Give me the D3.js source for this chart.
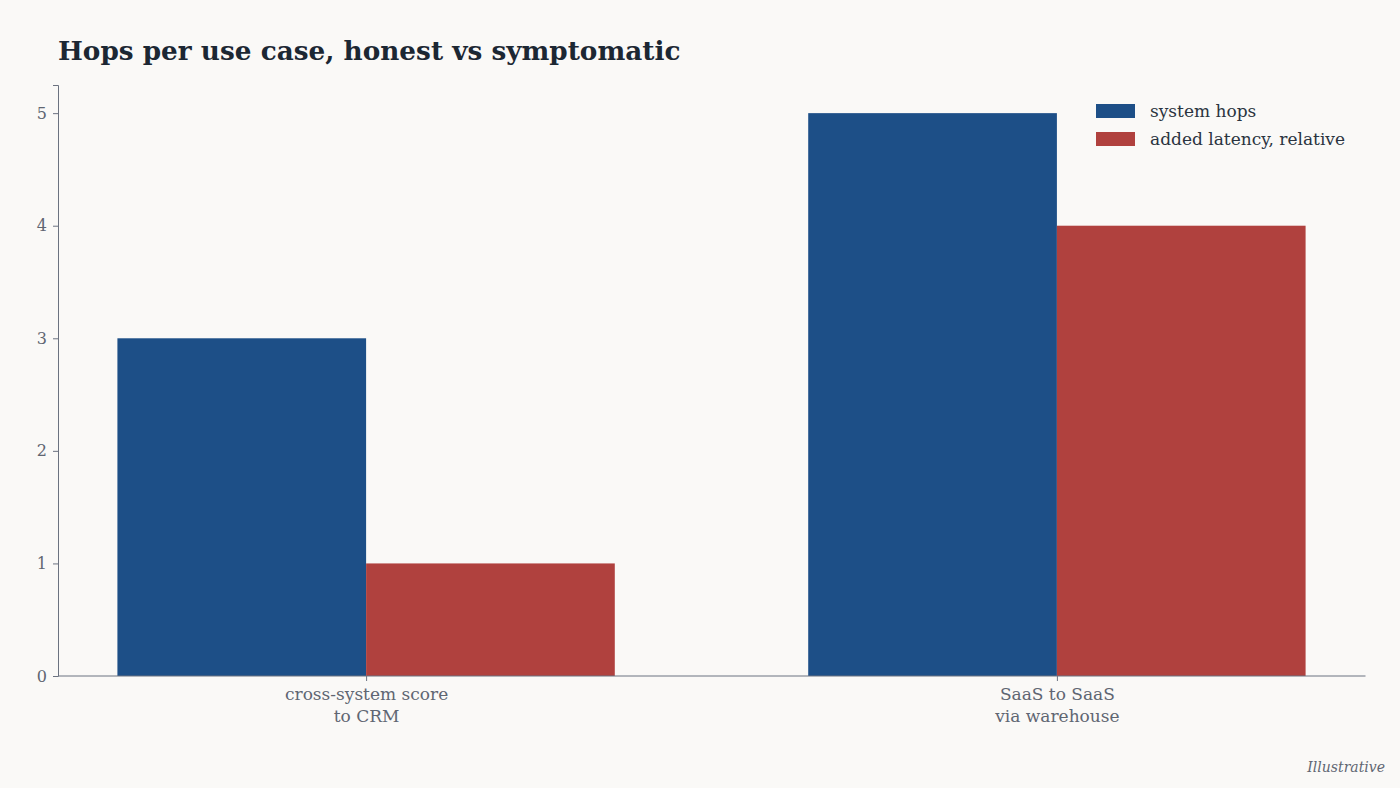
<!DOCTYPE html>
<html>
<head>
<meta charset="utf-8">
<script src="https://cdn.jsdelivr.net/npm/d3@7"></script>
<style>
  body { margin: 0; background: #faf9f7; }
  svg text { font-family: Georgia, "DejaVu Serif", serif; }
</style>
</head>
<body>
<svg id="chart" width="1400" height="788"></svg>
<script>
// data
var categories = ["cross-system score\nto CRM", "SaaS to SaaS\nvia warehouse"];
var seriesNames = ["system hops", "added latency, relative"];
var systemHops = [3, 5];
var addedLatency = [1, 4];
var yTicks = [0, 1, 2, 3, 4, 5];

var colors = ["#1d4f87", "#b0413e"];
var barW = 0.36;

var svg = d3.select("#chart");
var margin = { top: 85, right: 35, bottom: 112, left: 58 };
var width = 1400 - margin.left - margin.right;
var height = 788 - margin.top - margin.bottom;

var g = svg.append("g")
    .attr("transform", "translate(" + margin.left + "," + margin.top + ")");

var pad = (2 * barW + 1) * 0.05;
var x = d3.scaleLinear()
    .domain([-barW - pad, 1 + barW + pad])
    .range([0, width]);
var y = d3.scaleLinear().domain([0, 5.25]).range([height, 0]);

var series = [systemHops, addedLatency];
series.forEach(function(vals, s) {
    g.selectAll(".bar" + s)
        .data(vals)
        .enter().append("rect")
        .attr("x", function(d, i) { return x(i - barW + s * barW); })
        .attr("y", function(d) { return y(d); })
        .attr("width", x(barW) - x(0))
        .attr("height", function(d) { return y(0) - y(d); })
        .attr("fill", colors[s]);
});

// y axis
var yAxis = g.append("g")
    .call(d3.axisLeft(y).tickValues(yTicks).tickSize(5).tickPadding(6).tickFormat(d3.format("d")));
yAxis.select(".domain").attr("stroke", "#6b7280");
yAxis.selectAll(".tick line").attr("stroke", "#6b7280");
yAxis.selectAll(".tick text")
    .attr("fill", "#5f6672")
    .style("font-size", "16px")
    .style("font-variant-numeric", "oldstyle-nums");

// x axis
var xAxis = g.append("g")
    .attr("transform", "translate(0," + height + ")")
    .call(d3.axisBottom(x).tickValues([0, 1]).tickSize(5).tickFormat(""));
xAxis.select(".domain").attr("stroke", "#6b7280")
    .attr("d", "M0.5,0H" + (width + 0.5));
xAxis.selectAll(".tick line").attr("stroke", "#6b7280");
xAxis.selectAll(".tick").each(function(d, i) {
    var lines = categories[i].split("\n");
    var t = d3.select(this).append("text")
        .attr("fill", "#5f6672")
        .attr("text-anchor", "middle")
        .style("font-size", "17px");
    lines.forEach(function(l, k) {
        t.append("tspan").attr("x", 0).attr("y", 24 + k * 22).text(l);
    });
});

// title
svg.append("text")
    .attr("x", 58).attr("y", 60)
    .attr("fill", "#1c2733")
    .style("font-size", "26.3px")
    .style("font-weight", "bold")
    .text("Hops per use case, honest vs symptomatic");

// legend
var legend = svg.append("g").attr("transform", "translate(1096,104)");
seriesNames.forEach(function(name, i) {
    legend.append("rect")
        .attr("x", 0).attr("y", i * 28)
        .attr("width", 39).attr("height", 14)
        .attr("fill", colors[i]);
    legend.append("text")
        .attr("x", 54).attr("y", i * 28 + 13)
        .attr("fill", "#2a3440")
        .style("font-size", "17px")
        .text(name);
});

// note
svg.append("text")
    .attr("x", 1385).attr("y", 772)
    .attr("text-anchor", "end")
    .attr("fill", "#5f6672")
    .style("font-size", "14px")
    .style("font-style", "italic")
    .text("Illustrative");
</script>
</body>
</html>
